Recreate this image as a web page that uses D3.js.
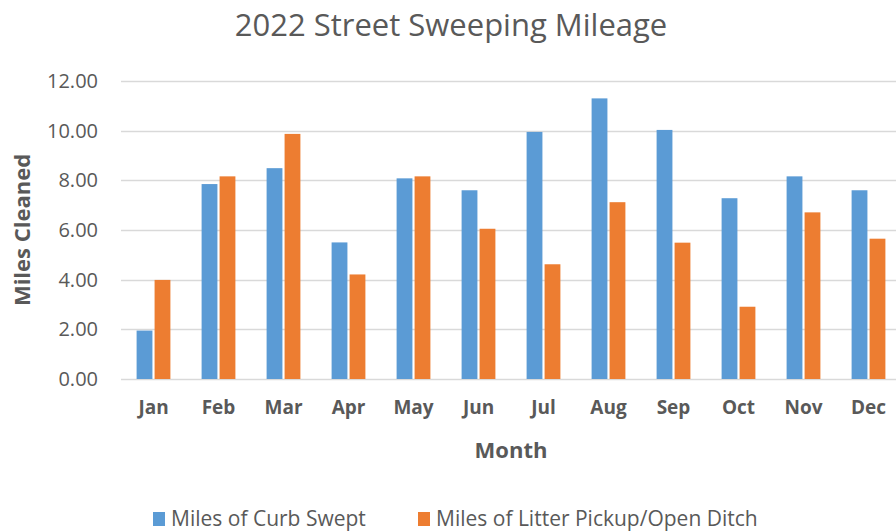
<!DOCTYPE html>
<html>
<head>
<meta charset="utf-8">
<script src="https://cdn.jsdelivr.net/npm/d3@7"></script>
<style>
  body { margin: 0; background: #fff; overflow: hidden; }
  svg { display: block; font-family: 'Open Sans', sans-serif; }
</style>
</head>
<body>
<div id="chart"></div>
<script>
const months = ['Jan', 'Feb', 'Mar', 'Apr', 'May', 'Jun', 'Jul', 'Aug', 'Sep', 'Oct', 'Nov', 'Dec'];
const curbSwept = [1.95, 7.85, 8.49, 5.50, 8.08, 7.60, 9.95, 11.30, 10.03, 7.28, 8.16, 7.60];
const litterPickup = [3.99, 8.16, 9.87, 4.21, 8.16, 6.05, 4.62, 7.12, 5.49, 2.91, 6.71, 5.65];
const seriesNames = ['Miles of Curb Swept', 'Miles of Litter Pickup/Open Ditch'];
const yTicks = [0, 2, 4, 6, 8, 10, 12];

const colors = ['#5b9bd5', '#ed7d31'];
const textColor = '#595959';

const width = 896, height = 532;
const plot = { left: 121, right: 901, top: 81, bottom: 379 };

const svg = d3.select('#chart')
  .append('svg')
    .attr('width', width)
    .attr('height', height);

const xScale = d3.scaleBand()
  .domain(months)
  .range([plot.left, plot.right])
  .paddingInner(0.48)
  .paddingOuter(0.24);

const xInner = d3.scaleBand()
  .domain([0, 1])
  .range([0, xScale.bandwidth()])
  .paddingInner(0.12);

const yScale = d3.scaleLinear()
  .domain([0, 12])
  .range([plot.bottom, plot.top]);

// gridlines
svg.append('g')
  .selectAll('line')
  .data(yTicks)
  .enter()
  .append('line')
    .attr('x1', plot.left)
    .attr('x2', plot.right)
    .attr('y1', d => Math.round(yScale(d)) + 0.5)
    .attr('y2', d => Math.round(yScale(d)) + 0.5)
    .attr('stroke', '#d9d9d9')
    .attr('stroke-width', 1.3);

// y axis labels
const yAxis = svg.append('g')
  .attr('transform', 'translate(' + plot.left + ',0)')
  .call(d3.axisLeft(yScale).tickValues(yTicks).tickFormat(d3.format('.2f')).tickSize(0).tickPadding(23));
yAxis.select('.domain').remove();
yAxis.selectAll('text')
  .attr('fill', textColor)
  .style('font-size', '20px')
  .style('font-family', "'Open Sans', sans-serif");

// x axis labels
const xAxis = svg.append('g')
  .attr('transform', 'translate(0,' + plot.bottom + ')')
  .call(d3.axisBottom(xScale).tickSize(0).tickPadding(22));
xAxis.select('.domain').remove();
xAxis.selectAll('text')
  .attr('fill', textColor)
  .style('font-size', '19px')
  .style('font-weight', 'bold')
  .style('font-family', "'Open Sans', sans-serif");

// bars
const series = [curbSwept, litterPickup];
series.forEach((values, si) => {
  svg.append('g')
    .selectAll('rect')
    .data(values)
    .enter()
    .append('rect')
      .attr('x', (d, i) => xScale(months[i]) + xInner(si))
      .attr('y', d => yScale(d))
      .attr('width', xInner.bandwidth())
      .attr('height', d => plot.bottom - yScale(d))
      .attr('fill', colors[si]);
});

// title
svg.append('text')
  .attr('x', 451)
  .attr('y', 36)
  .attr('text-anchor', 'middle')
  .attr('fill', textColor)
  .style('font-size', '31px')
  .text('2022 Street Sweeping Mileage');

// axis titles
svg.append('text')
  .attr('x', (plot.left + plot.right) / 2)
  .attr('y', 458)
  .attr('text-anchor', 'middle')
  .attr('fill', textColor)
  .style('font-size', '22px')
  .style('font-weight', 'bold')
  .text('Month');

svg.append('text')
  .attr('transform', 'translate(30,230) rotate(-90)')
  .attr('text-anchor', 'middle')
  .attr('fill', textColor)
  .style('font-size', '22px')
  .style('font-weight', 'bold')
  .text('Miles Cleaned');

// legend
const legendX = [153, 418];
const legend = svg.append('g');
seriesNames.forEach((name, i) => {
  legend.append('rect')
    .attr('x', legendX[i])
    .attr('y', 512)
    .attr('width', 12)
    .attr('height', 14)
    .attr('fill', colors[i]);
  legend.append('text')
    .attr('x', legendX[i] + 18)
    .attr('y', 526)
    .attr('fill', textColor)
    .style('font-size', '21px')
    .text(name);
});
</script>
</body>
</html>
